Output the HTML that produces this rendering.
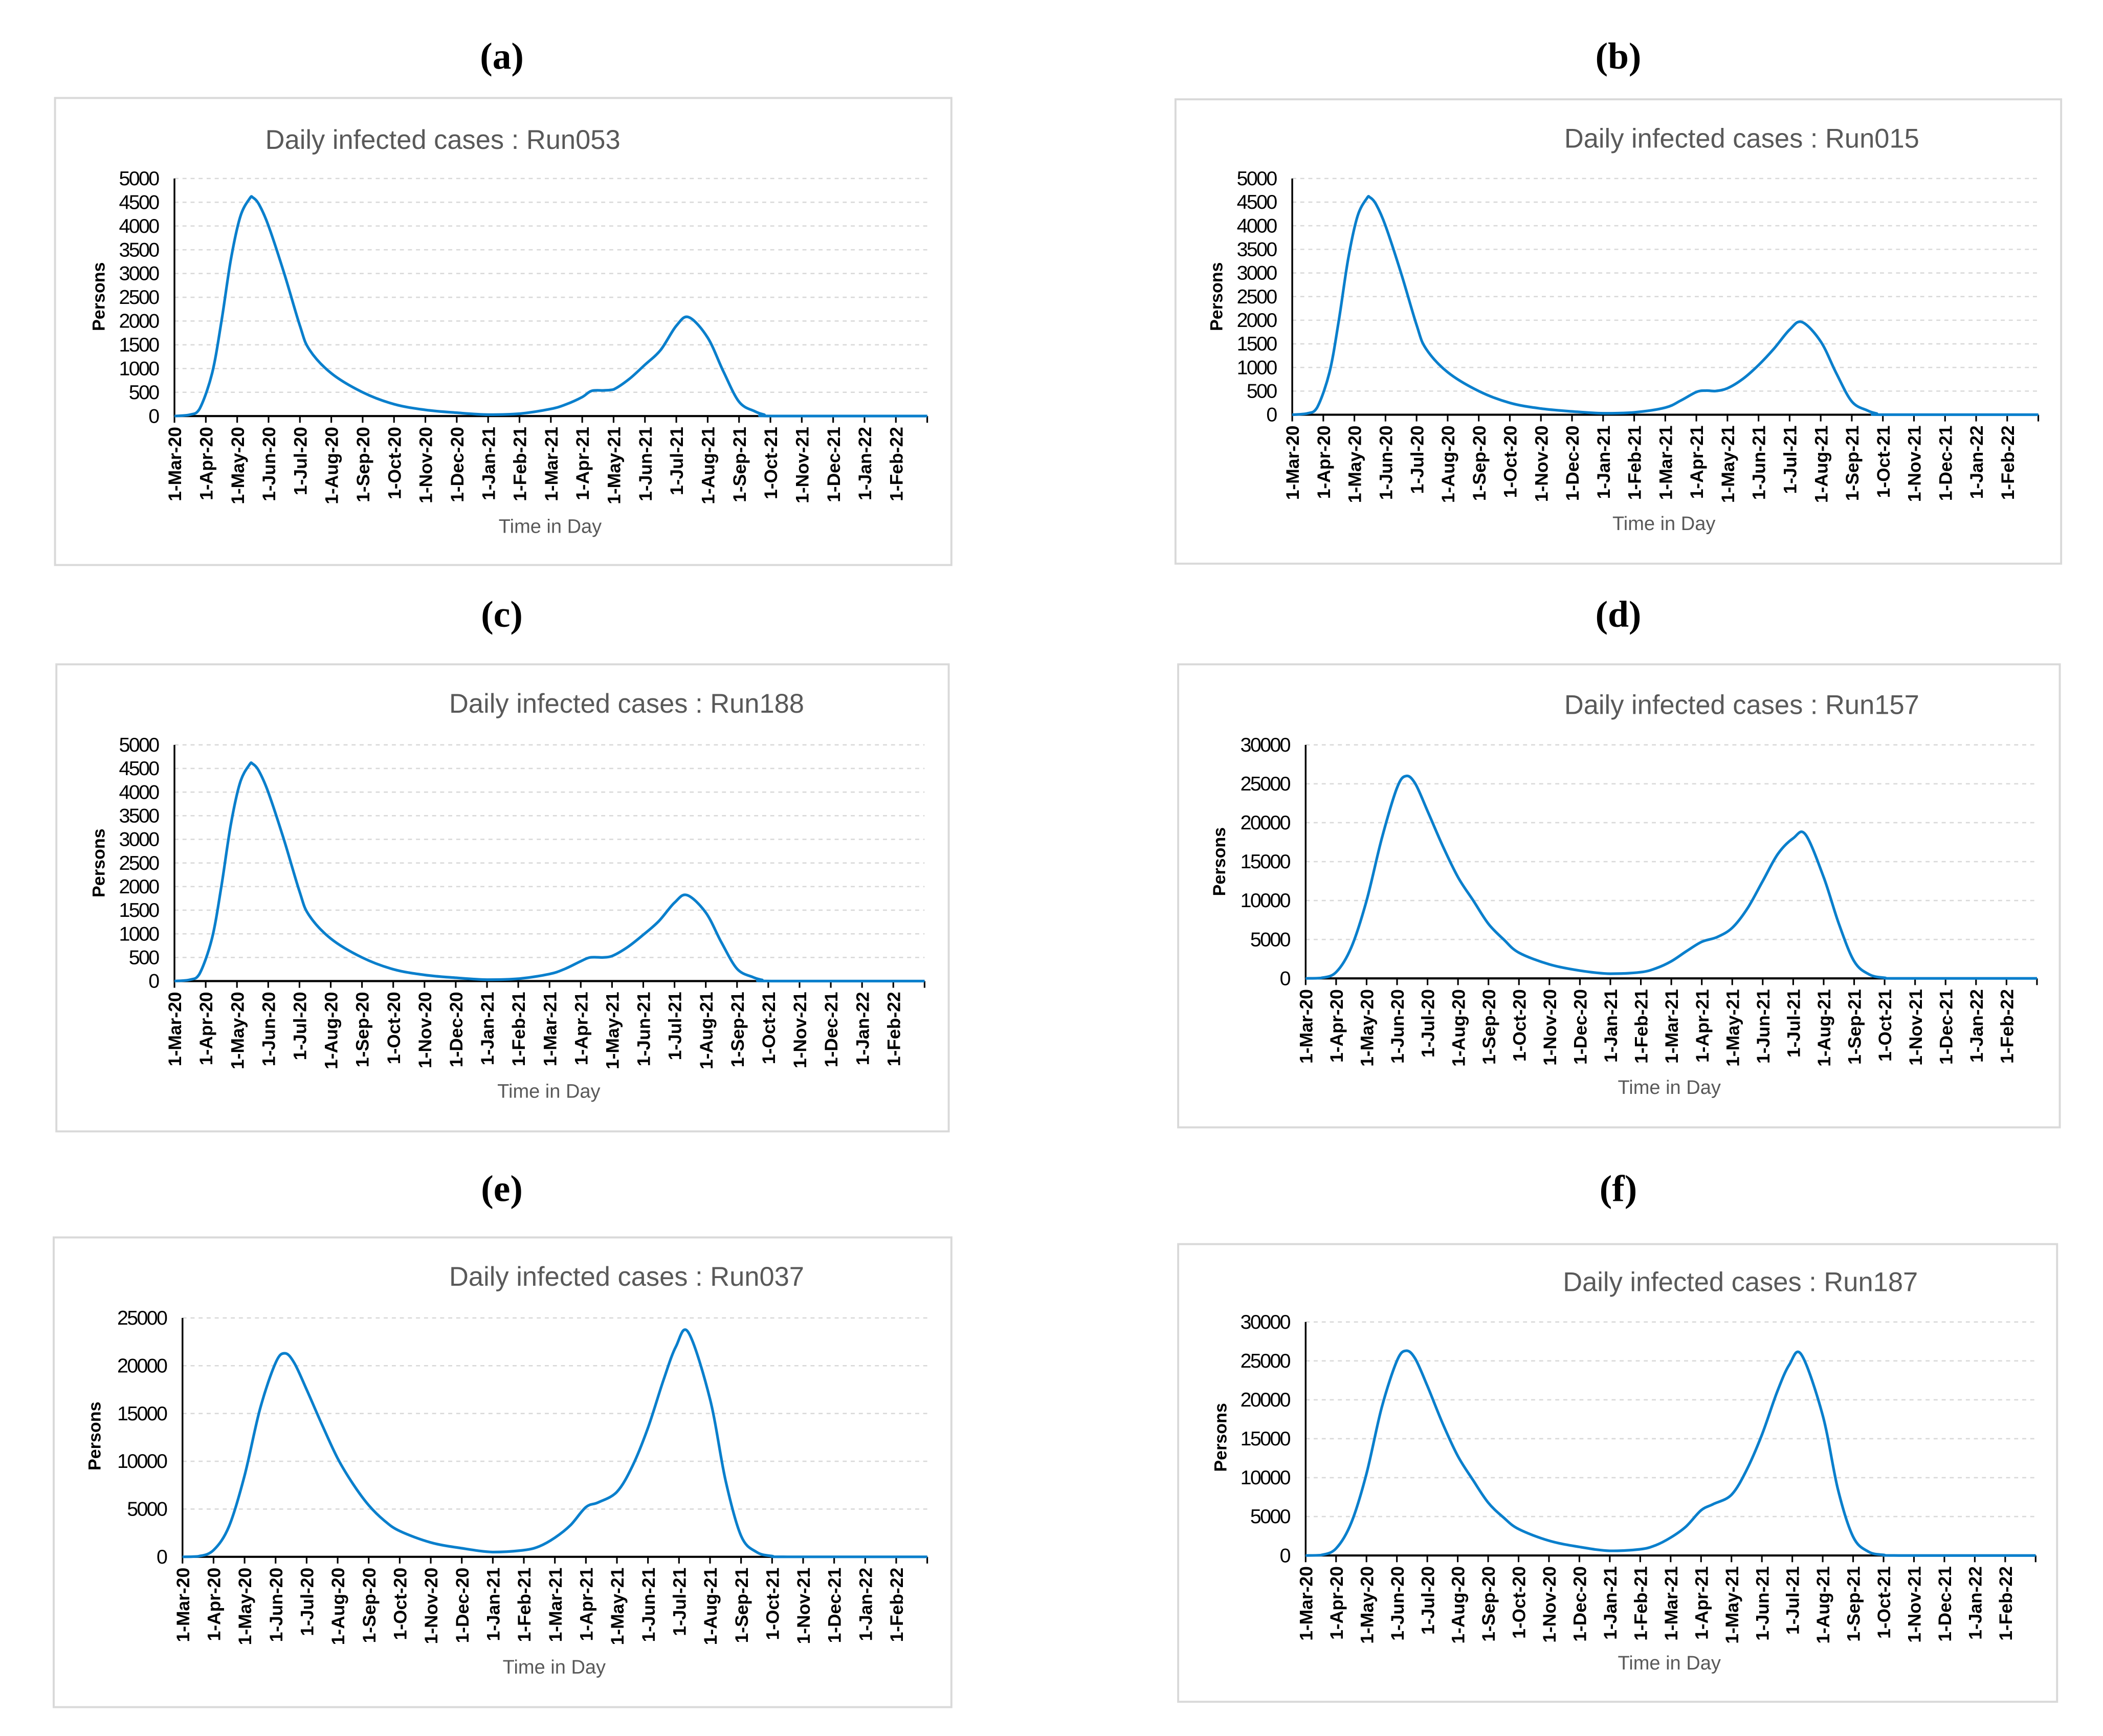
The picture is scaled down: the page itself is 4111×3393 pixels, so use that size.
<!DOCTYPE html>
<html><head><meta charset="utf-8"><style>
html,body{margin:0;padding:0;background:#fff;}
svg{display:block;}
</style></head><body>
<svg id="fig" width="4111" height="3393" viewBox="0 0 1567.2 1293.5" xmlns="http://www.w3.org/2000/svg" font-family="Liberation Sans, sans-serif"></svg>
<script>
// x positions in months since 1-Mar-20
const monthLabels = ["1-Mar-20","1-Apr-20","1-May-20","1-Jun-20","1-Jul-20","1-Aug-20","1-Sep-20","1-Oct-20","1-Nov-20","1-Dec-20","1-Jan-21","1-Feb-21","1-Mar-21","1-Apr-21","1-May-21","1-Jun-21","1-Jul-21","1-Aug-21","1-Sep-21","1-Oct-21","1-Nov-21","1-Dec-21","1-Jan-22","1-Feb-22"];
const ticksSmall = [0,500,1000,1500,2000,2500,3000,3500,4000,4500,5000];
const ticks25 = [0,5000,10000,15000,20000,25000];
const ticks30 = [0,5000,10000,15000,20000,25000,30000];

const aT = [0,0.5,0.8,1.2,1.5,1.8,2.1,2.4,2.5,2.7,3,3.5,4,4.3,5,6,7,8,9,10,11,12,12.5,13,13.3,13.7,14,14.5,15,15.5,16,16.4,17,17.5,18,18.5,18.8,19.1,24];
const aV = [0,30,150,900,2000,3300,4200,4580,4600,4450,4000,3000,1900,1400,900,500,250,130,70,30,50,150,250,400,530,540,560,780,1080,1390,1900,2080,1650,940,300,100,30,0,0];
const bT = [0,0.5,0.8,1.2,1.5,1.8,2.1,2.4,2.5,2.7,3,3.5,4,4.3,5,6,7,8,9,10,11,12,12.5,13,13.3,13.6,14,14.5,15,15.5,16,16.4,17,17.5,18,18.5,18.8,19.1,24];
const bV = [0,30,150,900,2000,3300,4200,4580,4600,4450,4000,3000,1900,1400,900,500,250,130,70,30,50,150,300,480,510,500,560,760,1050,1400,1800,1960,1550,880,280,90,25,0,0];
const cT = [0,0.5,0.8,1.2,1.5,1.8,2.1,2.4,2.5,2.7,3,3.5,4,4.3,5,6,7,8,9,10,11,12,12.5,13,13.3,13.7,14,14.5,15,15.5,16,16.4,17,17.5,18,18.5,18.8,19.1,24];
const cV = [0,30,150,900,2000,3300,4200,4580,4600,4450,4000,3000,1900,1400,900,500,250,130,70,30,50,150,260,420,500,500,530,720,980,1270,1660,1820,1450,820,260,85,25,0,0];
const dT = [0,0.5,1,1.5,2,2.5,3,3.3,3.6,4,4.5,5,5.5,6,6.5,7,8,9,10,11,11.5,12,12.5,13,13.5,14,14.5,15,15.5,16,16.4,17,17.5,18,18.5,19,19.5,24];
const dV = [0,50,800,4000,10000,18000,24500,26000,25000,21500,17000,13000,10000,7000,5000,3300,1800,1000,600,800,1300,2200,3500,4700,5300,6500,9000,12500,16000,18000,18500,13000,7000,2200,500,80,0,0];
const eT = [0,0.5,1,1.5,2,2.5,3,3.3,3.6,4,4.5,5,5.5,6,6.5,7,8,9,10,11,11.5,12,12.5,13,13.4,14,14.5,15,15.5,15.9,16.3,17,17.5,18,18.5,19,19.5,24];
const eV = [0,50,700,3200,8500,15500,20300,21300,20300,17500,13800,10300,7600,5400,3800,2700,1500,900,500,700,1100,2000,3300,5200,5700,6800,9500,13500,18500,22000,23500,16500,8000,2200,500,80,0,0];
const fT = [0,0.5,1,1.5,2,2.5,3,3.3,3.6,4,4.5,5,5.5,6,6.5,7,8,9,10,11,11.5,12,12.5,13,13.4,14,14.5,15,15.5,15.9,16.3,17,17.5,18,18.5,19,19.5,24];
const fV = [0,50,900,4200,10500,19000,25000,26300,25300,21800,17000,12800,9700,6800,4900,3400,1900,1100,600,800,1300,2300,3700,5800,6600,7800,11000,15500,21000,24500,25800,18000,8500,2400,500,80,0,0];

const panels = [
 {id:"a",label:"(a)",lx:374,ly:42,fr:[41,73,709,421],title:"Daily infected cases : Run053",tx:330,ty:104,x0:130,x1:691,yTop:133,yZero:310,max:5000,ticks:ticksSmall,px:73,py:221,xtx:410,xty:392,T:aT,V:aV},
 {id:"b",label:"(b)",lx:1206,ly:42,fr:[876,74,1536,420],title:"Daily infected cases : Run015",tx:1298,ty:103,x0:963,x1:1519,yTop:133,yZero:309,max:5000,ticks:ticksSmall,px:906,py:221,xtx:1240,xty:390,T:bT,V:bV},
 {id:"c",label:"(c)",lx:374,ly:458,fr:[42,495,707,843],title:"Daily infected cases : Run188",tx:467,ty:524,x0:130,x1:689,yTop:555,yZero:731,max:5000,ticks:ticksSmall,px:73,py:643,xtx:409,xty:813,T:cT,V:cV},
 {id:"d",label:"(d)",lx:1206,ly:458,fr:[878,495,1535,840],title:"Daily infected cases : Run157",tx:1298,ty:525,x0:973,x1:1518,yTop:555,yZero:729,max:30000,ticks:ticks30,px:908,py:642,xtx:1244,xty:810,T:dT,V:dV},
 {id:"e",label:"(e)",lx:374,ly:886,fr:[40,922,709,1272],title:"Daily infected cases : Run037",tx:467,ty:951,x0:136,x1:691,yTop:982,yZero:1160,max:25000,ticks:ticks25,px:70,py:1070,xtx:413,xty:1242,T:eT,V:eV},
 {id:"f",label:"(f)",lx:1206,ly:886,fr:[878,927,1533,1268],title:"Daily infected cases : Run187",tx:1297,ty:955,x0:973,x1:1517,yTop:985,yZero:1159,max:30000,ticks:ticks30,px:909,py:1071,xtx:1244,xty:1239,T:fT,V:fV}
];

const NS = "http://www.w3.org/2000/svg";
const svg = document.getElementById("fig");
function mk(tag, attrs, parent, text){
  const e = document.createElementNS(NS, tag);
  for (const k in attrs) e.setAttribute(k, attrs[k]);
  if (text !== undefined) e.textContent = text;
  parent.appendChild(e);
  return e;
}
function smooth(pts){
  let d = "M" + pts[0][0].toFixed(2) + "," + pts[0][1].toFixed(2);
  for (let i=0;i<pts.length-1;i++){
    const p0=pts[Math.max(0,i-1)], p1=pts[i], p2=pts[i+1], p3=pts[Math.min(pts.length-1,i+2)];
    let c1y = p1[1]+(p2[1]-p0[1])/6, c2y = p2[1]-(p3[1]-p1[1])/6;
    const base = Math.max(p1[1],p2[1]);
    c1y = Math.min(c1y, base); c2y = Math.min(c2y, base);
    d += " C"+(p1[0]+(p2[0]-p0[0])/6).toFixed(2)+","+c1y.toFixed(2)+" "+(p2[0]-(p3[0]-p1[0])/6).toFixed(2)+","+c2y.toFixed(2)+" "+p2[0].toFixed(2)+","+p2[1].toFixed(2);
  }
  return d;
}

panels.forEach(p=>{
  const g = mk("g",{},svg);
  
  
  const xs = m => p.x0 + (p.x1-p.x0)*m/24;
  const ys = v => p.yZero - (p.yZero-p.yTop)*v/p.max;

  const lab = mk("text",{x:p.lx,y:p.ly+9,"text-anchor":"middle","font-family":"Liberation Serif, serif","font-weight":"bold","font-size":"28",fill:"#000"},g,p.label);
  
  

  const fr = mk("rect",{x:p.fr[0],y:p.fr[1],width:p.fr[2]-p.fr[0],height:p.fr[3]-p.fr[1],fill:"#fff",stroke:"#d9d9d9","stroke-width":"1.5"},g);
  
  

  const t = mk("text",{x:p.tx,y:p.ty+7,"text-anchor":"middle","font-size":"20",fill:"#595959"},g,p.title);
  
  

  p.ticks.forEach(v=>{
    if (v>0){
      const gl = mk("line",{x1:p.x0,x2:p.x1,y1:ys(v),y2:ys(v),stroke:"#d9d9d9","stroke-width":"1","stroke-dasharray":"3,3"},g);
      
      
    }
    const tl = mk("text",{x:p.x0-12,y:ys(v)+5,"text-anchor":"end","font-size":"15","letter-spacing":"-1",fill:"#000"},g,String(v));
    
    
  });

  const ya = mk("line",{x1:p.x0,x2:p.x0,y1:p.yTop,y2:p.yZero,stroke:"#000","stroke-width":"1.3"},g);
  
  
  const xa = mk("line",{x1:p.x0,x2:p.x1,y1:p.yZero,y2:p.yZero,stroke:"#000","stroke-width":"1.6"},g);
  
  

  for (let m=0;m<=24;m++){
    const tk = mk("line",{x1:xs(m),x2:xs(m),y1:p.yZero,y2:p.yZero+5,stroke:"#000","stroke-width":"1.2"},g);
    
    
  }
  monthLabels.forEach((s,m)=>{
    const x = xs(m)+5, y = p.yZero+8;
    const tl = mk("text",{x:x,y:y,"text-anchor":"end","font-size":"13.5","font-weight":"bold",fill:"#000",transform:"rotate(-90 "+x+" "+y+")"},g,s);
    
    
  });

  const yt = mk("text",{x:p.px+5,y:p.py,"text-anchor":"middle","font-size":"13","font-weight":"bold",fill:"#000",transform:"rotate(-90 "+(p.px+5)+" "+p.py+")"},g,"Persons");
  
  
  const xt = mk("text",{x:p.xtx,y:p.xty+5,"text-anchor":"middle","font-size":"14.5",fill:"#595959"},g,"Time in Day");
  
  

  const pts = p.T.map((m,i)=>[xs(m), ys(p.V[i])]);
  const ln = mk("path",{d:smooth(pts),fill:"none",stroke:"#0a7fcc","stroke-width":"2","stroke-linejoin":"round"},g);
  
  
});
</script>
</body></html>
